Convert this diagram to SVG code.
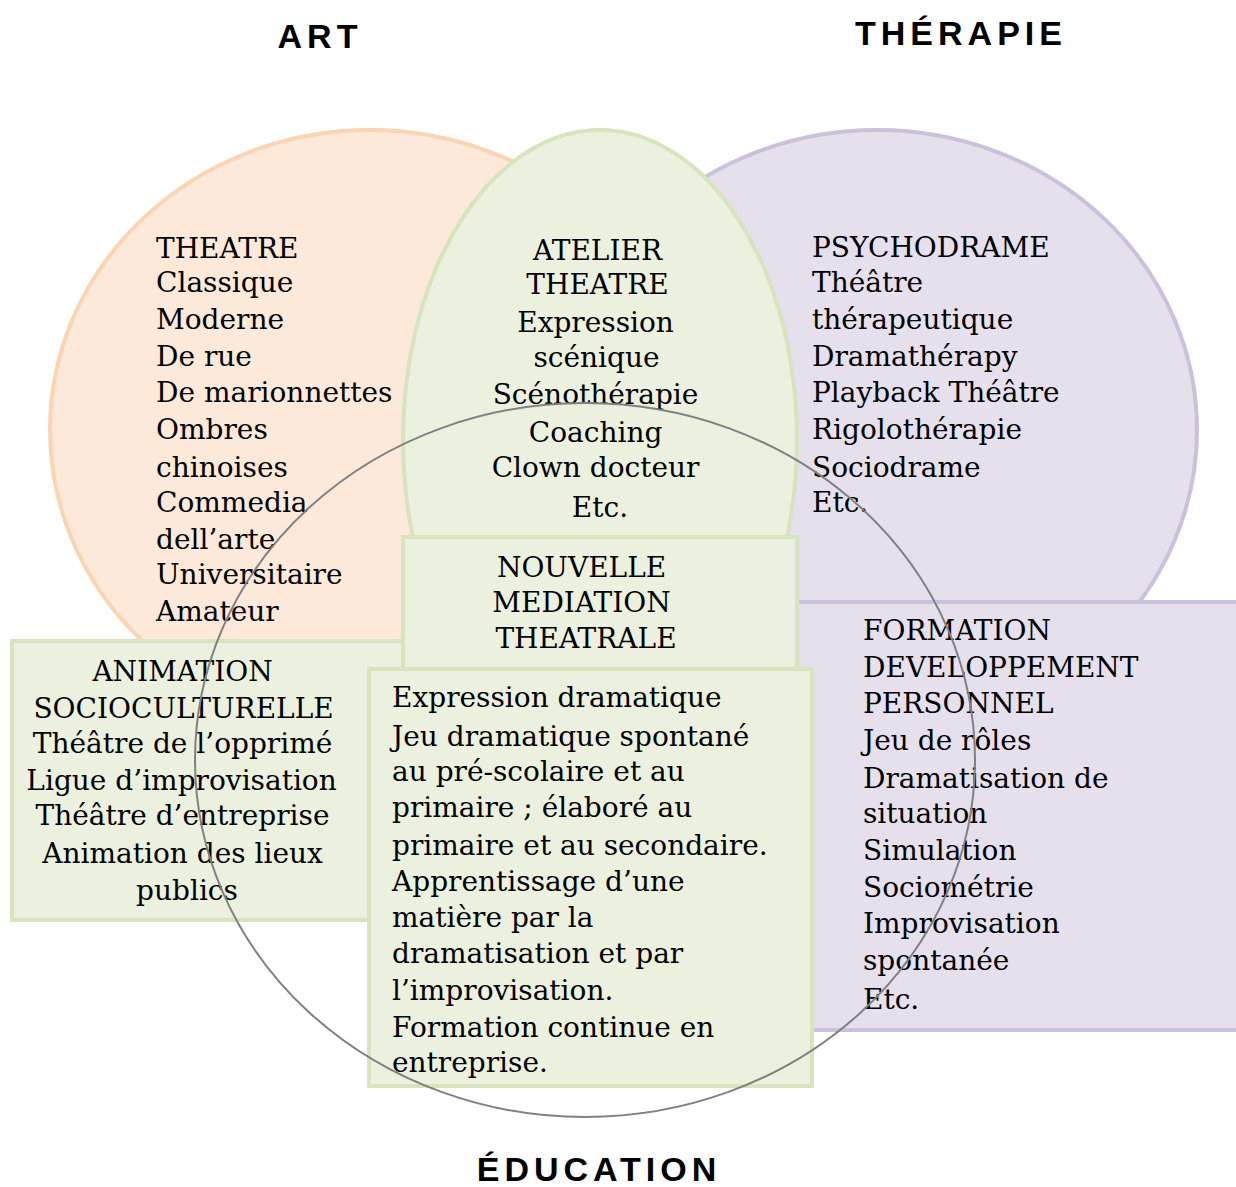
<svg xmlns="http://www.w3.org/2000/svg" width="1236" height="1187" viewBox="0 0 1236 1187">
<style>
.t{font-family:"DejaVu Serif","Liberation Serif",serif;font-size:28px;fill:#000}
.c{text-anchor:middle}
.h{font-family:"Liberation Sans",Arial,sans-serif;font-weight:bold;font-size:34px;letter-spacing:5px;fill:#000;text-anchor:middle}
.or{fill:#FDE9D9;stroke:#FBD4B4;stroke-width:4}
.gr{fill:#EBF1DE;stroke:#D7E4BD;stroke-width:4}
.pu{fill:#E5E0EC;stroke:#CCC1DA;stroke-width:4}
</style>
<rect width="1236" height="1187" fill="#fff"/>
<g id="titles">
<text class="h" x="320" y="48">ART</text>
<text class="h" x="961" y="45">THÉRAPIE</text>
<text class="h" x="599" y="1181">ÉDUCATION</text>
</g>
<g id="art">
<ellipse class="or" cx="370" cy="430" rx="320" ry="300"/>
</g>
<g id="therapie">
<ellipse class="pu" cx="877" cy="430" rx="320" ry="300"/>
</g>
<g id="atelier">
<ellipse class="gr" cx="600" cy="440" rx="197" ry="310"/>
</g>
<g id="animation">
<rect class="gr" x="12" y="641" width="400" height="279"/>
</g>
<g id="formation">
<rect class="pu" x="797" y="602" width="445" height="428"/>
</g>
<g id="nouvelle">
<rect class="gr" x="403" y="537" width="394" height="140"/>
</g>
<g id="expression">
<rect class="gr" x="369" y="669" width="443" height="417"/>
</g>
<g id="texts">
<text class="t">
<tspan x="156" y="258">THEATRE</tspan>
<tspan x="156" y="292">Classique</tspan>
<tspan x="156" y="329">Moderne</tspan>
<tspan x="156" y="366">De rue</tspan>
<tspan x="156" y="402">De marionnettes</tspan>
<tspan x="156" y="439">Ombres</tspan>
<tspan x="156" y="477">chinoises</tspan>
<tspan x="156" y="512">Commedia</tspan>
<tspan x="156" y="549">dell’arte</tspan>
<tspan x="156" y="584">Universitaire</tspan>
<tspan x="156" y="621">Amateur</tspan>
</text>
<text class="t c">
<tspan x="602" y="260">ATELIER</tspan>
<tspan x="602" y="294">THEATRE</tspan>
<tspan x="600" y="332">Expression</tspan>
<tspan x="601" y="367">scénique</tspan>
<tspan x="600" y="404">Scénothérapie</tspan>
<tspan x="600" y="442">Coaching</tspan>
<tspan x="600" y="477">Clown docteur</tspan>
<tspan x="600" y="517">Etc.</tspan>
</text>
<text class="t">
<tspan x="812" y="257">PSYCHODRAME</tspan>
<tspan x="812" y="292">Théâtre</tspan>
<tspan x="812" y="329">thérapeutique</tspan>
<tspan x="812" y="366">Dramathérapy</tspan>
<tspan x="812" y="402">Playback Théâtre</tspan>
<tspan x="812" y="439">Rigolothérapie</tspan>
<tspan x="812" y="477">Sociodrame</tspan>
<tspan x="812" y="512">Etc.</tspan>
</text>
<text class="t c">
<tspan x="586" y="577">NOUVELLE</tspan>
<tspan x="586" y="612">MEDIATION</tspan>
<tspan x="586" y="648">THEATRALE</tspan>
</text>
<text class="t c">
<tspan x="187" y="681">ANIMATION</tspan>
<tspan x="188" y="718">SOCIOCULTURELLE</tspan>
<tspan x="187" y="753">Théâtre de l’opprimé</tspan>
<tspan x="186" y="790">Ligue d’improvisation</tspan>
<tspan x="187" y="825">Théâtre d’entreprise</tspan>
<tspan x="187" y="863">Animation des lieux</tspan>
<tspan x="187" y="900">publics</tspan>
</text>
<text class="t">
<tspan x="392" y="707">Expression dramatique</tspan>
<tspan x="392" y="746">Jeu dramatique spontané</tspan>
<tspan x="392" y="781">au pré-scolaire et au</tspan>
<tspan x="392" y="817">primaire ; élaboré au</tspan>
<tspan x="392" y="855">primaire et au secondaire.</tspan>
<tspan x="392" y="891">Apprentissage d’une</tspan>
<tspan x="392" y="927">matière par la</tspan>
<tspan x="392" y="963">dramatisation et par</tspan>
<tspan x="392" y="1000">l’improvisation.</tspan>
<tspan x="392" y="1037">Formation continue en</tspan>
<tspan x="392" y="1072">entreprise.</tspan>
</text>
<text class="t">
<tspan x="863" y="640">FORMATION</tspan>
<tspan x="863" y="677">DEVELOPPEMENT</tspan>
<tspan x="863" y="713">PERSONNEL</tspan>
<tspan x="863" y="750">Jeu de rôles</tspan>
<tspan x="863" y="788">Dramatisation de</tspan>
<tspan x="863" y="823">situation</tspan>
<tspan x="863" y="860">Simulation</tspan>
<tspan x="863" y="897">Sociométrie</tspan>
<tspan x="863" y="933">Improvisation</tspan>
<tspan x="863" y="970">spontanée</tspan>
<tspan x="863" y="1009">Etc.</tspan>
</text>
</g>
<g id="education">
<ellipse cx="585" cy="760" rx="390" ry="357" fill="none" stroke="#808080" stroke-width="2"/>
</g>
</svg>
